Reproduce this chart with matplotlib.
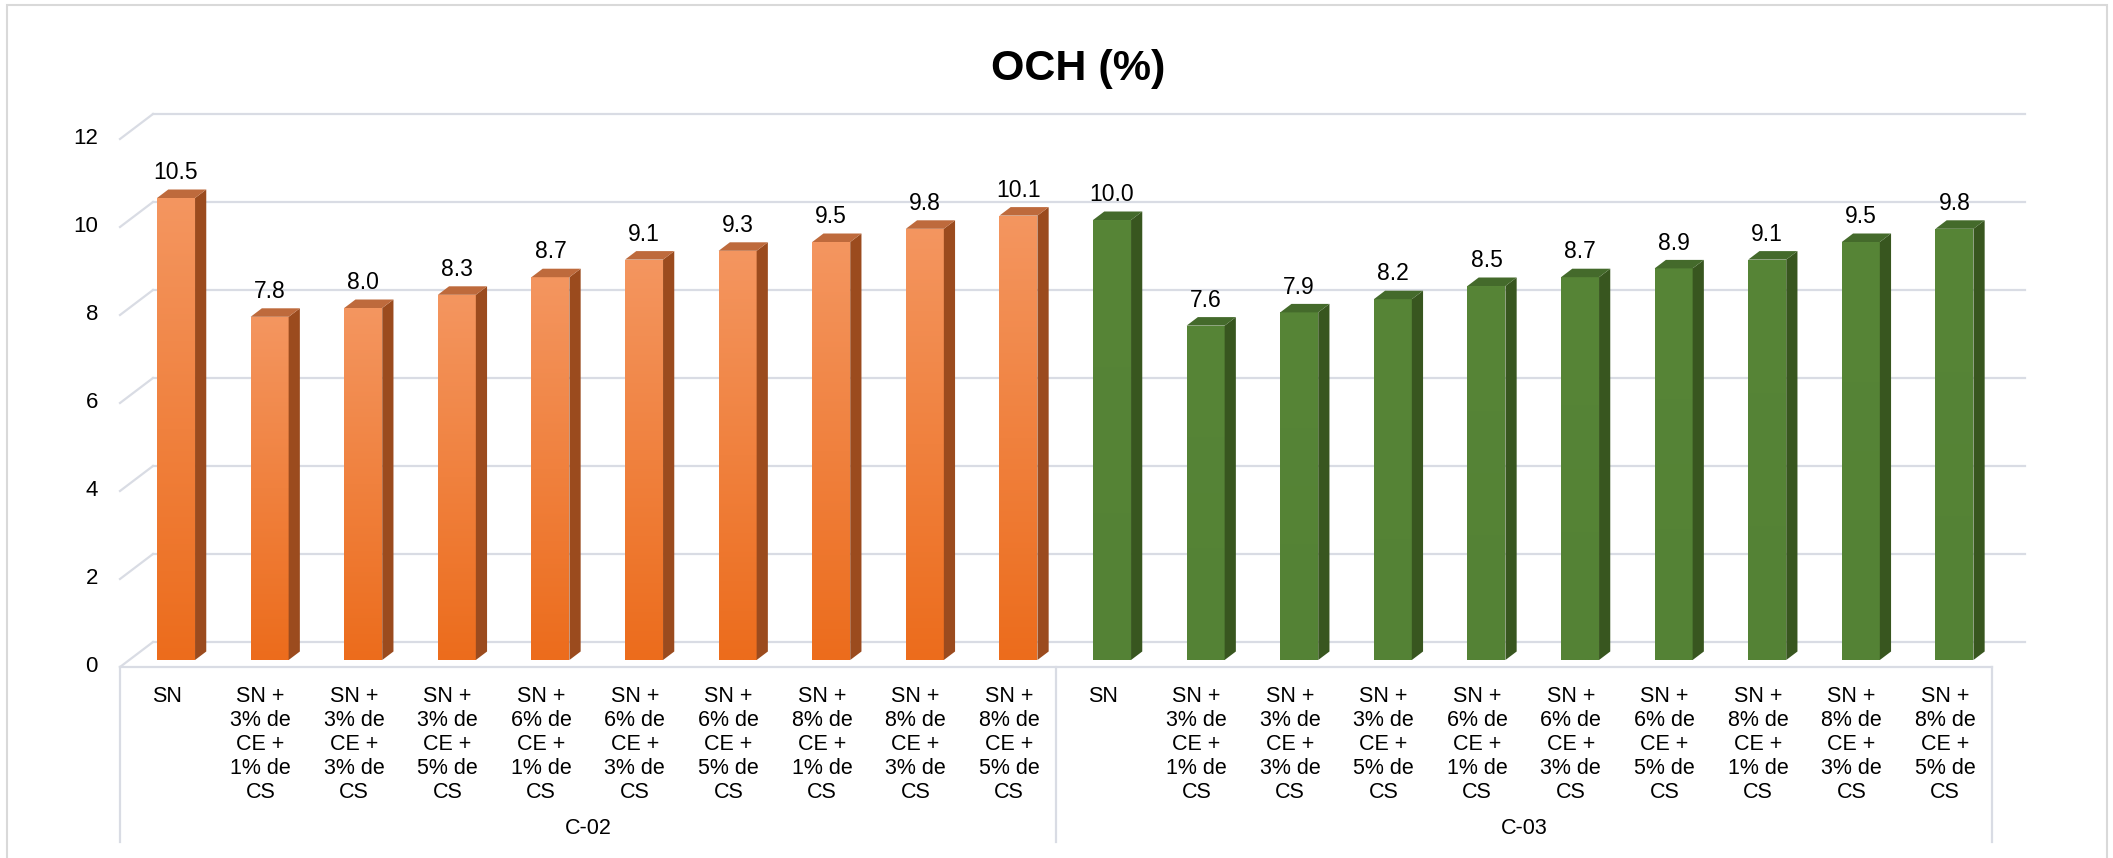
import numpy as np
import matplotlib.pyplot as plt
from matplotlib.patches import Polygon, Rectangle
from matplotlib.colors import LinearSegmentedColormap

# datos
grupos = ["C-02", "C-03"]
tratamientos = [
    "SN",
    "SN +\n3% de\nCE +\n1% de\nCS",
    "SN +\n3% de\nCE +\n3% de\nCS",
    "SN +\n3% de\nCE +\n5% de\nCS",
    "SN +\n6% de\nCE +\n1% de\nCS",
    "SN +\n6% de\nCE +\n3% de\nCS",
    "SN +\n6% de\nCE +\n5% de\nCS",
    "SN +\n8% de\nCE +\n1% de\nCS",
    "SN +\n8% de\nCE +\n3% de\nCS",
    "SN +\n8% de\nCE +\n5% de\nCS",
]
och_c02 = [10.5, 7.8, 8.0, 8.3, 8.7, 9.1, 9.3, 9.5, 9.8, 10.1]
och_c03 = [10.0, 7.6, 7.9, 8.2, 8.5, 8.7, 8.9, 9.1, 9.5, 9.8]
y_ticks = [0, 2, 4, 6, 8, 10, 12]

plt.rcParams['font.family'] = ['Liberation Sans', 'DejaVu Sans']

W, H = 2113, 858
fig = plt.figure(figsize=(W / 100, H / 100), dpi=100)
ax = fig.add_axes([0, 0, 1, 1])

# escala en pixeles
PX_CAT = 93.6   # px por categoria
PX_VAL = 44.0   # px por unidad
X0, Y0 = 120, 667   # esquina frontal del piso (px)

# profundidad del piso
DX = 33 / PX_CAT
DY = 25 / PX_VAL
B0 = 0.28      # plano frontal de la barra
BD = 0.34      # profundidad de la barra
BW = 38 / PX_CAT

grid_c = "#D9DCE4"
n = len(tratamientos) * len(grupos)

# pared de fondo
for t in y_ticks:
    ax.plot([-0.5 + DX, n - 0.5 + DX], [t + DY, t + DY], color=grid_c, lw=1.6, zorder=1)
    ax.plot([-0.5, -0.5 + DX], [t, t + DY], color=grid_c, lw=1.6, zorder=1)
    ax.text(-0.5 - 22 / PX_CAT, t, str(t), ha='right', va='center', fontsize=16)

# borde frontal y separadores
y_bot = (Y0 - 842) / PX_VAL
ax.plot([-0.5, n - 0.5], [0, 0], color=grid_c, lw=1.6, zorder=1)
for xs in [-0.5, len(tratamientos) - 0.5, n - 0.5]:
    ax.plot([xs, xs], [0, y_bot], color=grid_c, lw=1.6, zorder=1)

estilos = [
    dict(front=("#EC6C1C", "#F49660"), side="#9B4B1E", top="#BE6A3C"),
    dict(front=("#548235", "#578537"), side="#38561F", top="#446A2B"),
]

valores = [och_c02, och_c03]
for g, (vals, st) in enumerate(zip(valores, estilos)):
    cmap = LinearSegmentedColormap.from_list("g%d" % g, list(st["front"]))
    grad = np.linspace(0, 1, 256).reshape(-1, 1)
    for k, v in enumerate(vals):
        i = g * len(tratamientos) + k
        xl = i + B0 * DX - BW / 2
        xr = i + B0 * DX + BW / 2
        yb = B0 * DY
        yt = v + B0 * DY
        ddx, ddy = BD * DX, BD * DY
        rect = Rectangle((xl, yb), BW, v, facecolor='none', edgecolor='none')
        ax.add_patch(rect)
        im = ax.imshow(grad, cmap=cmap, origin='lower', extent=[xl, xr, yb, yt],
                       aspect='auto', zorder=3, interpolation='bilinear')
        im.set_clip_path(rect)
        ax.add_patch(Polygon([(xr, yb), (xr + ddx, yb + ddy), (xr + ddx, yt + ddy), (xr, yt)],
                             closed=True, facecolor=st["side"], edgecolor='none', zorder=3))
        ax.add_patch(Polygon([(xl, yt), (xr, yt), (xr + ddx, yt + ddy), (xl + ddx, yt + ddy)],
                             closed=True, facecolor=st["top"], edgecolor='none', zorder=3))
        ax.text(i + B0 * DX, yt + ddy + 0.12, "%.1f" % v, ha='center', va='bottom',
                fontsize=16.5, zorder=4)
        ax.text(i, -19 / PX_VAL, tratamientos[k], ha='center', va='top', fontsize=15.5,
                linespacing=1.18)
    ax.text(g * len(tratamientos) + (len(tratamientos) - 1) / 2, (Y0 - 829) / PX_VAL,
            grupos[g], ha='center', va='center', fontsize=15.5)

ax.set_xlim(-X0 / PX_CAT - 0.5, (W - X0) / PX_CAT - 0.5)
ax.set_ylim((Y0 - H) / PX_VAL, Y0 / PX_VAL)
ax.axis('off')

ax.text((1078 - X0) / PX_CAT - 0.5, (Y0 - 69) / PX_VAL, "OCH (%)", ha='center', va='center',
        fontsize=31, fontweight='bold')

# borde del area del grafico
fig.patches.append(Rectangle((7 / W, -0.01), (2107 - 7) / W, 1 - 5 / H + 0.01,
                             transform=fig.transFigure, facecolor='none',
                             edgecolor="#D9D9D9", lw=1.5))

fig.savefig("out.png", dpi=100)
